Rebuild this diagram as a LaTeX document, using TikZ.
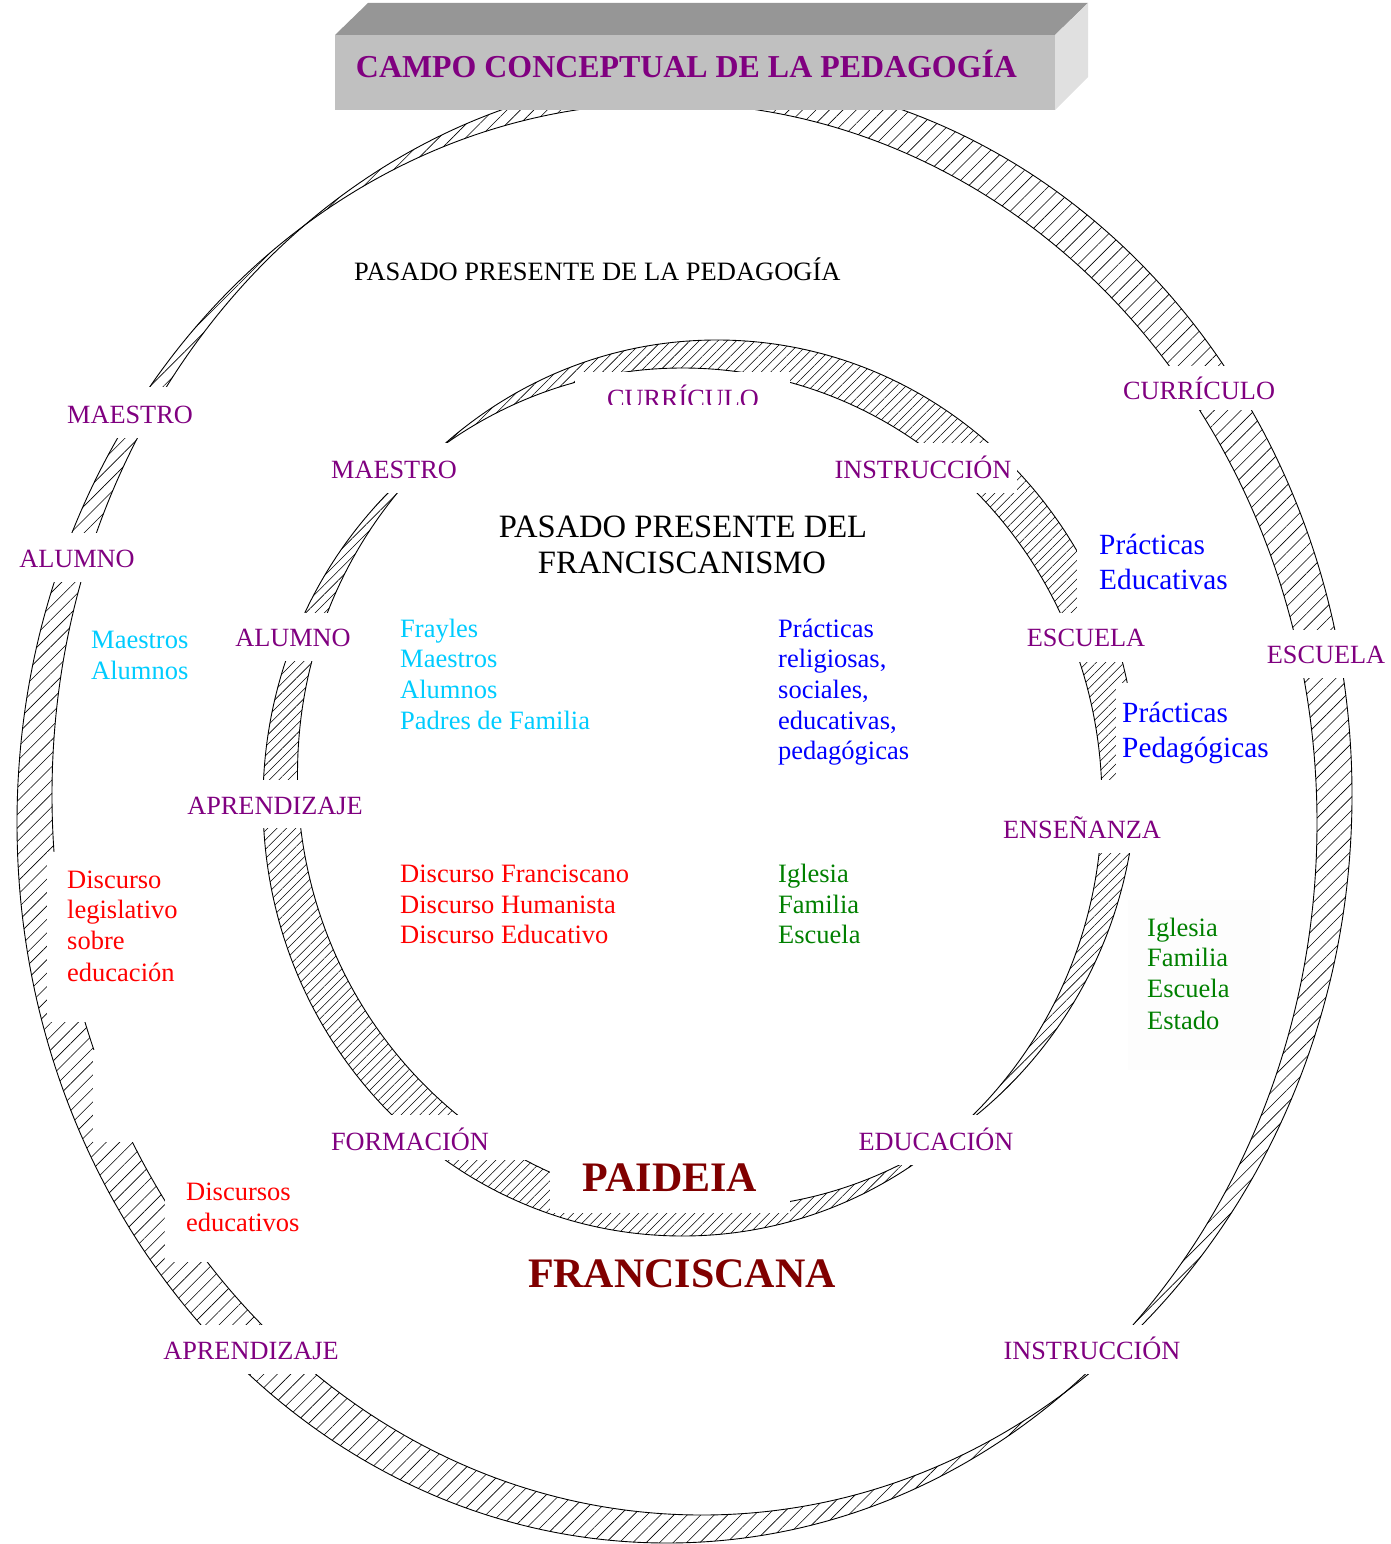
\documentclass[tikz,border=0pt]{standalone}
\usepackage{fontspec}
\setmainfont{Liberation Serif}
\usetikzlibrary{patterns.meta}
\definecolor{cpurple}{RGB}{128,0,128}
\definecolor{ccyan}{RGB}{0,204,255}
\definecolor{cblue}{RGB}{0,0,255}
\definecolor{cred}{RGB}{255,0,0}
\definecolor{cgreen}{RGB}{0,128,0}
\definecolor{cdarkred}{RGB}{128,0,0}
\definecolor{boxfront}{RGB}{192,192,192}
\definecolor{boxtop}{RGB}{150,150,150}
\definecolor{boxside}{RGB}{224,224,224}
\definecolor{faint}{RGB}{253,253,253}
\begin{document}
\begin{tikzpicture}[x=1pt,y=-1pt,
  lbl/.style={text=cpurple, font=\fontsize{26.3pt}{31pt}\selectfont, inner sep=0pt, anchor=base},
  body/.style={font=\fontsize{26.5pt}{31pt}\selectfont, inner sep=0pt, anchor=base west},
  bodybig/.style={font=\fontsize{29.3pt}{35pt}\selectfont, inner sep=0pt, anchor=base west},
  headtxt/.style={font=\fontsize{32.6pt}{36pt}\selectfont, inner sep=0pt, anchor=base},
  titletxt/.style={font=\fontsize{31.9pt}{36pt}\selectfont\bfseries, text=cpurple, inner sep=0pt, anchor=base},
  heavy/.style={font=\fontsize{42pt}{48pt}\selectfont\bfseries, text=cdarkred, inner sep=0pt, anchor=base},
  maskbox/.style={fill=white},
  ringedge/.style={line width=0.9pt},
  hatchout/.style={pattern={Lines[angle=45,distance=9.5pt,line width=0.6pt]}},
  hatchin/.style={pattern={Lines[angle=45,distance=6.6pt,line width=0.55pt]}},
]
\useasboundingbox (0,0) rectangle (1391,1544);

% ---------- outer ring ----------
\fill[hatchout, even odd rule] (702,795) ellipse [x radius=650pt, y radius=720pt]
  (667,823) ellipse [x radius=650pt, y radius=720pt];
\draw[ringedge] (702,795) ellipse [x radius=650pt, y radius=720pt];
\draw[ringedge] (667,823) ellipse [x radius=650pt, y radius=720pt];

% ---------- inner ring ----------
\fill[hatchin, even odd rule] (717,774) ellipse [x radius=419.5pt, y radius=434pt]
  (682.5,802) ellipse [x radius=419.5pt, y radius=434pt];
\draw[ringedge] (717,774) ellipse [x radius=419.5pt, y radius=434pt];
\draw[ringedge] (682.5,802) ellipse [x radius=419.5pt, y radius=434pt];

% ---------- white label backgrounds ----------
% outer ring
\fill[maskbox] (60,387) rectangle (200,438);
\fill[maskbox] (12,533) rectangle (140,582);
\fill[maskbox] (1115,366) rectangle (1282,410);
\fill[maskbox] (1262,630) rectangle (1391,678);
\fill[maskbox] (158,1325) rectangle (345,1374);
\fill[maskbox] (998,1325) rectangle (1185,1374);
\fill[maskbox] (47,852) rectangle (185,1022);
\fill[maskbox] (93,1050) rectangle (190,1142);
\fill[maskbox] (165,1170) rectangle (305,1262);
% inner ring
\fill[maskbox] (575,372) rectangle (790,404.5);
\fill[maskbox] (326,443) rectangle (462,493);
\fill[maskbox] (830,443) rectangle (1017,493);
\fill[maskbox] (230,613) rectangle (355,661);
\fill[maskbox] (1022,613) rectangle (1150,662);
\fill[maskbox] (182,780) rectangle (368,828);
\fill[maskbox] (998,780) rectangle (1166,853);
\fill[maskbox] (326,1115) rectangle (540,1160);
\fill[maskbox] (854,1115) rectangle (1020,1165);
\fill[maskbox] (550,1145) rectangle (790,1213);
\fill[maskbox] (1077,515) rectangle (1240,613);
\fill[maskbox] (1116,683) rectangle (1280,780);
\fill[faint] (1128,900) rectangle (1270,1070);

% ---------- title block ----------
\fill[boxtop] (335,35) -- (368,3) -- (1088,3) -- (1055,35) -- cycle;
\fill[boxside] (1055,35) -- (1088,3) -- (1088,77) -- (1055,110) -- cycle;
\fill[boxfront] (335,35) rectangle (1055,110);
\node[titletxt] (title) at (686.5,77.6) {CAMPO CONCEPTUAL DE LA PEDAGOGÍA};

% ---------- headings ----------
\node[body, anchor=base west] (pasped) at (354,280) {PASADO PRESENTE DE LA PEDAGOGÍA};
\node[headtxt] (pasfr1) at (683,537) {PASADO PRESENTE DEL};
\node[headtxt] (pasfr2) at (682,573) {FRANCISCANISMO};

% ---------- outer ring labels ----------
\node[lbl] (omaestro) at (130,423.7) {MAESTRO};
\node[lbl] (oalumno) at (77,567.7) {ALUMNO};
\node[lbl] (ocurriculo) at (1199,399.7) {CURRÍCULO};
\node[lbl] (oescuela) at (1326,663.7) {ESCUELA};
\node[lbl] (oaprend) at (251,1359.7) {APRENDIZAJE};
\node[lbl] (oinstr) at (1092,1359.7) {INSTRUCCIÓN};

% ---------- inner ring labels ----------
\begin{scope}
\clip (575,372) rectangle (790,404.5);
\node[lbl] (icurriculo) at (683,407) {CURRÍCULO};
\end{scope}
\node[lbl] (imaestro) at (394,478.7) {MAESTRO};
\node[lbl] (iinstr) at (923,478.7) {INSTRUCCIÓN};
\node[lbl] (ialumno) at (293,646.7) {ALUMNO};
\node[lbl] (iescuela) at (1086,646.7) {ESCUELA};
\node[lbl] (iaprend) at (275,814.7) {APRENDIZAJE};
\node[lbl] (iensen) at (1082,838.7) {ENSEÑANZA};
\node[lbl] (iform) at (410,1150.7) {FORMACIÓN};
\node[lbl] (ieduc) at (936,1150.7) {EDUCACIÓN};

% ---------- cyan ----------
\node[body, text=ccyan] (ma1) at (91,648) {Maestros};
\node[body, text=ccyan] (ma2) at (91,679) {Alumnos};
\node[body, text=ccyan] (fr1) at (400,637) {Frayles};
\node[body, text=ccyan] (fr2) at (400,667) {Maestros};
\node[body, text=ccyan] (fr3) at (400,698) {Alumnos};
\node[body, text=ccyan] (fr4) at (400,729) {Padres de Familia};

% ---------- blue ----------
\node[body, text=cblue] (pr1) at (778,637) {Prácticas};
\node[body, text=cblue] (pr2) at (778,667) {religiosas,};
\node[body, text=cblue] (pr3) at (778,698) {sociales,};
\node[body, text=cblue] (pr4) at (778,729) {educativas,};
\node[body, text=cblue] (pr5) at (778,759) {pedagógicas};
\node[bodybig, text=cblue] (pe1) at (1099,554) {Prácticas};
\node[bodybig, text=cblue] (pe2) at (1099,589) {Educativas};
\node[bodybig, text=cblue] (pp1) at (1122,722) {Prácticas};
\node[bodybig, text=cblue] (pp2) at (1122,757) {Pedagógicas};

% ---------- red ----------
\node[body, text=cred] (dl1) at (67,888) {Discurso};
\node[body, text=cred] (dl2) at (67,918) {legislativo};
\node[body, text=cred] (dl3) at (67,949) {sobre};
\node[body, text=cred] (dl4) at (67,981) {educación};
\node[body, text=cred] (df1) at (400,882) {Discurso Franciscano};
\node[body, text=cred] (df2) at (400,913) {Discurso Humanista};
\node[body, text=cred] (df3) at (400,943) {Discurso Educativo};
\node[body, text=cred] (de1) at (186,1200) {Discursos};
\node[body, text=cred] (de2) at (186,1231) {educativos};

% ---------- green ----------
\node[body, text=cgreen] (ig1) at (778,882) {Iglesia};
\node[body, text=cgreen] (ig2) at (778,913) {Familia};
\node[body, text=cgreen] (ig3) at (778,943) {Escuela};
\node[body, text=cgreen] (ie1) at (1147,936) {Iglesia};
\node[body, text=cgreen] (ie2) at (1147,966) {Familia};
\node[body, text=cgreen] (ie3) at (1147,997) {Escuela};
\node[body, text=cgreen] (ie4) at (1147,1029) {Estado};

% ---------- big words ----------
\node[heavy] (paideia) at (670,1191) {PAIDEIA};
\node[heavy] (francis) at (682,1287) {FRANCISCANA};
\end{tikzpicture}
\end{document}
